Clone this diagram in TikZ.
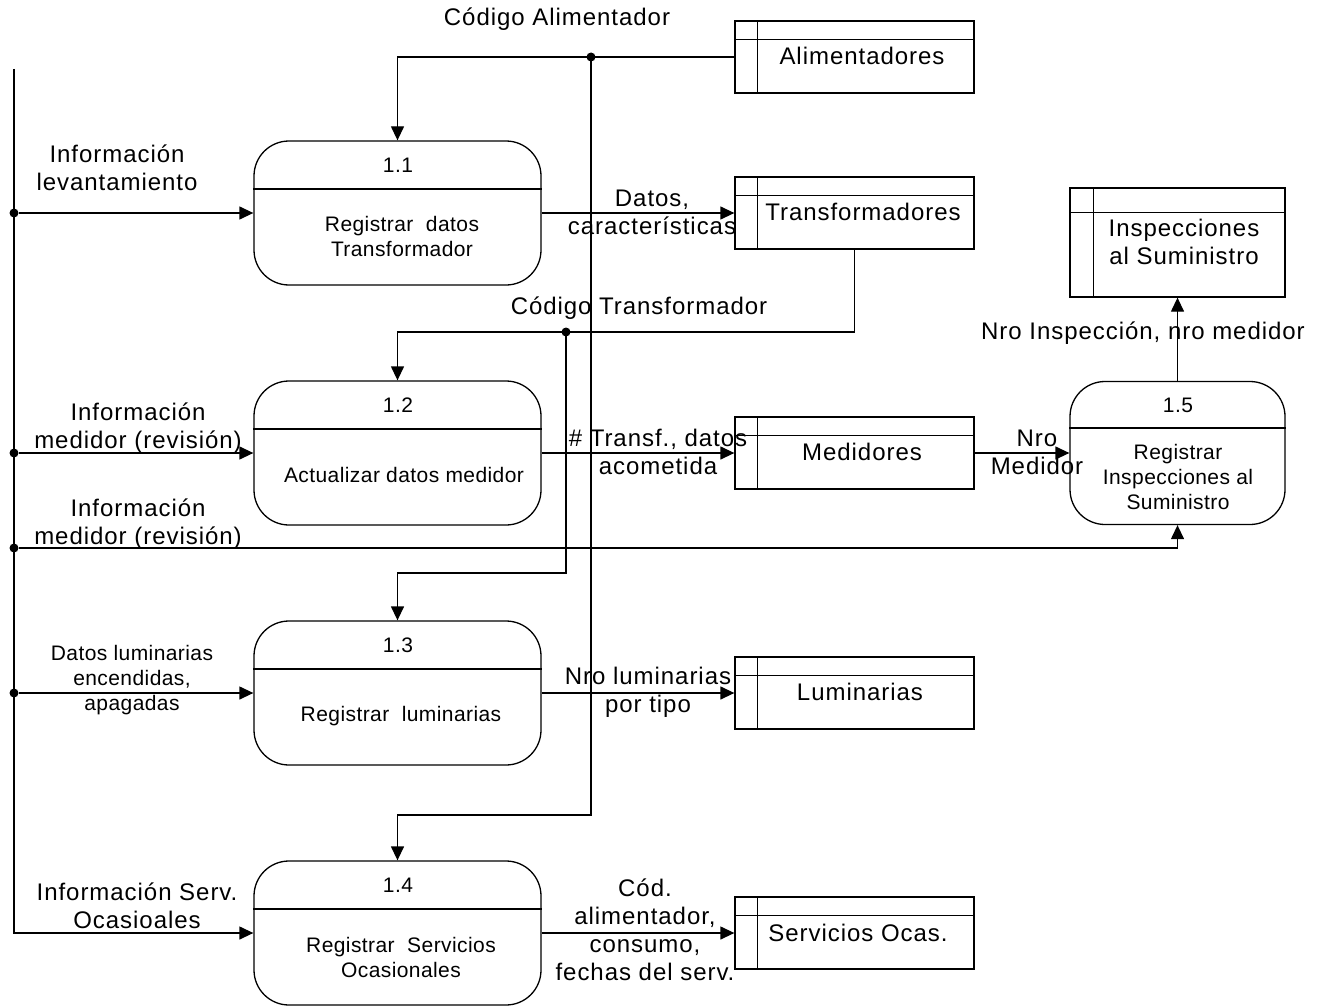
\documentclass[tikz,border=0pt]{standalone}
\usepackage{fontspec}
\setmainfont{Liberation Sans}
\newfontfamily\bigf[LetterSpace=4]{Liberation Sans}
\newfontfamily\smallf[LetterSpace=2]{Liberation Sans}
\usetikzlibrary{arrows.meta}
\begin{document}
\begin{tikzpicture}[x=1pt,y=-1pt, line width=1.3pt,
 arr/.style={-{Triangle[length=14pt,width=13pt]}},
 proc/.style={draw, rounded corners=35pt, minimum width=287pt, minimum height=144pt, inner sep=0pt},
 store/.style={draw, minimum width=239pt, minimum height=72pt, inner sep=0pt},
 lbl/.style={font=\bigf\fontsize{24}{28}\selectfont, align=center, inner sep=0pt},
 ptxt/.style={font=\smallf\fontsize{21}{25}\selectfont, align=center, inner sep=0pt},
 dot/.style={circle, fill, inner sep=0pt, minimum size=9pt}]
\useasboundingbox (0,0) rectangle (1325,1006);

% processes
\node[proc] (p11) at (397.5,213) {};
\node[proc] (p12) at (397.5,453) {};
\node[proc] (p13) at (397.5,693) {};
\node[proc] (p14) at (397.5,933) {};
\node[proc, minimum width=215pt, minimum height=143pt] (p15) at (1177.5,453) {};
\draw (p11.west |- 0,189) -- (p11.east |- 0,189);
\draw (p12.west |- 0,429) -- (p12.east |- 0,429);
\draw (p13.west |- 0,669) -- (p13.east |- 0,669);
\draw (p14.west |- 0,909) -- (p14.east |- 0,909);
\draw (p15.west |- 0,428) -- (p15.east |- 0,428);

% data stores
\node[store] (alim) at (854.5,57) {};
\node[store] (trans) at (854.5,213) {};
\node[store] (med) at (854.5,453) {};
\node[store] (lum) at (854.5,693) {};
\node[store] (serv) at (854.5,933) {};
\node[store, minimum width=215pt, minimum height=109pt] (insp) at (1177.5,242.5) {};
\foreach \s in {alim,trans,med,lum,serv}{
  \draw (\s.north west) ++(23,0) -- ++(0,72);
  \draw (\s.north west) ++(0,19) -- ++(239,0);
}
\draw (insp.north west) ++(24,0) -- ++(0,109);
\draw (insp.north west) ++(0,25) -- ++(215,0);

% store texts
\node[lbl] (talim) at (862,56) {Alimentadores};
\node[lbl] (ttrans) at (863,212) {Transformadores};
\node[lbl] (tmed) at (862,452) {Medidores};
\node[lbl] (tlum) at (860,692) {Luminarias};
\node[lbl] (tserv) at (858,933) {Servicios Ocas.};
\node[lbl] (tinsp) at (1184,242) {Inspecciones\\al Suministro};

% process texts
\node[ptxt] (n11) at (398,165) {1.1};
\node[ptxt] (d11) at (402,236) {Registrar~ datos\\Transformador};
\node[ptxt] (n12) at (398,405) {1.2};
\node[ptxt] (d12) at (404,475) {Actualizar datos medidor};
\node[ptxt] (n13) at (398,645) {1.3};
\node[ptxt] (d13) at (401,716) {Registrar~ luminarias};
\node[ptxt] (n14) at (398,885) {1.4};
\node[ptxt] (d14) at (401,957) {Registrar~ Servicios\\Ocasionales};
\node[ptxt] (n15) at (1178,405) {1.5};
\node[ptxt] (d15) at (1178,477) {Registrar\\Inspecciones al\\Suministro};

% flow labels
\node[lbl] (l1) at (557,19) {Código Alimentador};
\node[lbl] (l2) at (117,168) {Información\\levantamiento};
\node[lbl] (l3) at (652,212) {Datos,\\características};
\node[lbl] (l4) at (639,308) {Código Transformador};
\node[lbl] (l5) at (1143,333) {Nro Inspección, nro medidor};
\node[lbl] (l6) at (138,428) {Información\\medidor (revisión)};
\node[lbl] (l7) at (658,452) {\# Transf., datos\\acometida};
\node[lbl] (l8) at (1037,452) {Nro\\Medidor};
\node[lbl] (l9) at (138,524) {Información\\medidor (revisión)};
\node[ptxt] (l10) at (132,680) {Datos luminarias\\encendidas,\\apagadas};
\node[lbl] (l11) at (648,692) {Nro luminarias\\por tipo};
\node[lbl] (l12) at (137,906) {Información Serv.\\Ocasioales};
\node[lbl] (l13) at (645,930) {Cód.\\alimentador,\\consumo,\\fechas del serv.};

% left bus
\coordinate (bt) at (14,69);
\coordinate (bb) at (14,933);
\node[dot] (d1) at (14,213) {};
\node[dot] (d2) at (14,453) {};
\node[dot] (d3) at (14,548) {};
\node[dot] (d4) at (14,693) {};
\draw[arr] (bt) -- (bb) -- (p14.west);
\draw[arr] (d1) -- (p11.west);
\draw[arr] (d2) -- (p12.west);
\draw[arr] (d3) -| (p15.south);
\draw[arr] (d4) -- (p13.west);

% store feeds
\node[dot] (j1) at (591,57) {};
\coordinate (k1) at (591,815);
\draw[arr] (alim.west) -| (p11.north);
\draw[arr] (j1.center) -- (k1) -| (p14.north);
\node[dot] (j2) at (566,332) {};
\coordinate (k2) at (566,573);
\draw[arr] (trans.south) |- (j2.center) -| (p12.north);
\draw[arr] (j2.center) -- (k2) -| (p13.north);

% process outputs
\draw[arr] (p11.east) -- (trans.west);
\draw[arr] (p12.east) -- (med.west);
\draw[arr] (med.east) -- (p15.west);
\draw[arr] (p15.north) -- (insp.south);
\draw[arr] (p13.east) -- (lum.west);
\draw[arr] (p14.east) -- (serv.west);
\end{tikzpicture}
\end{document}
